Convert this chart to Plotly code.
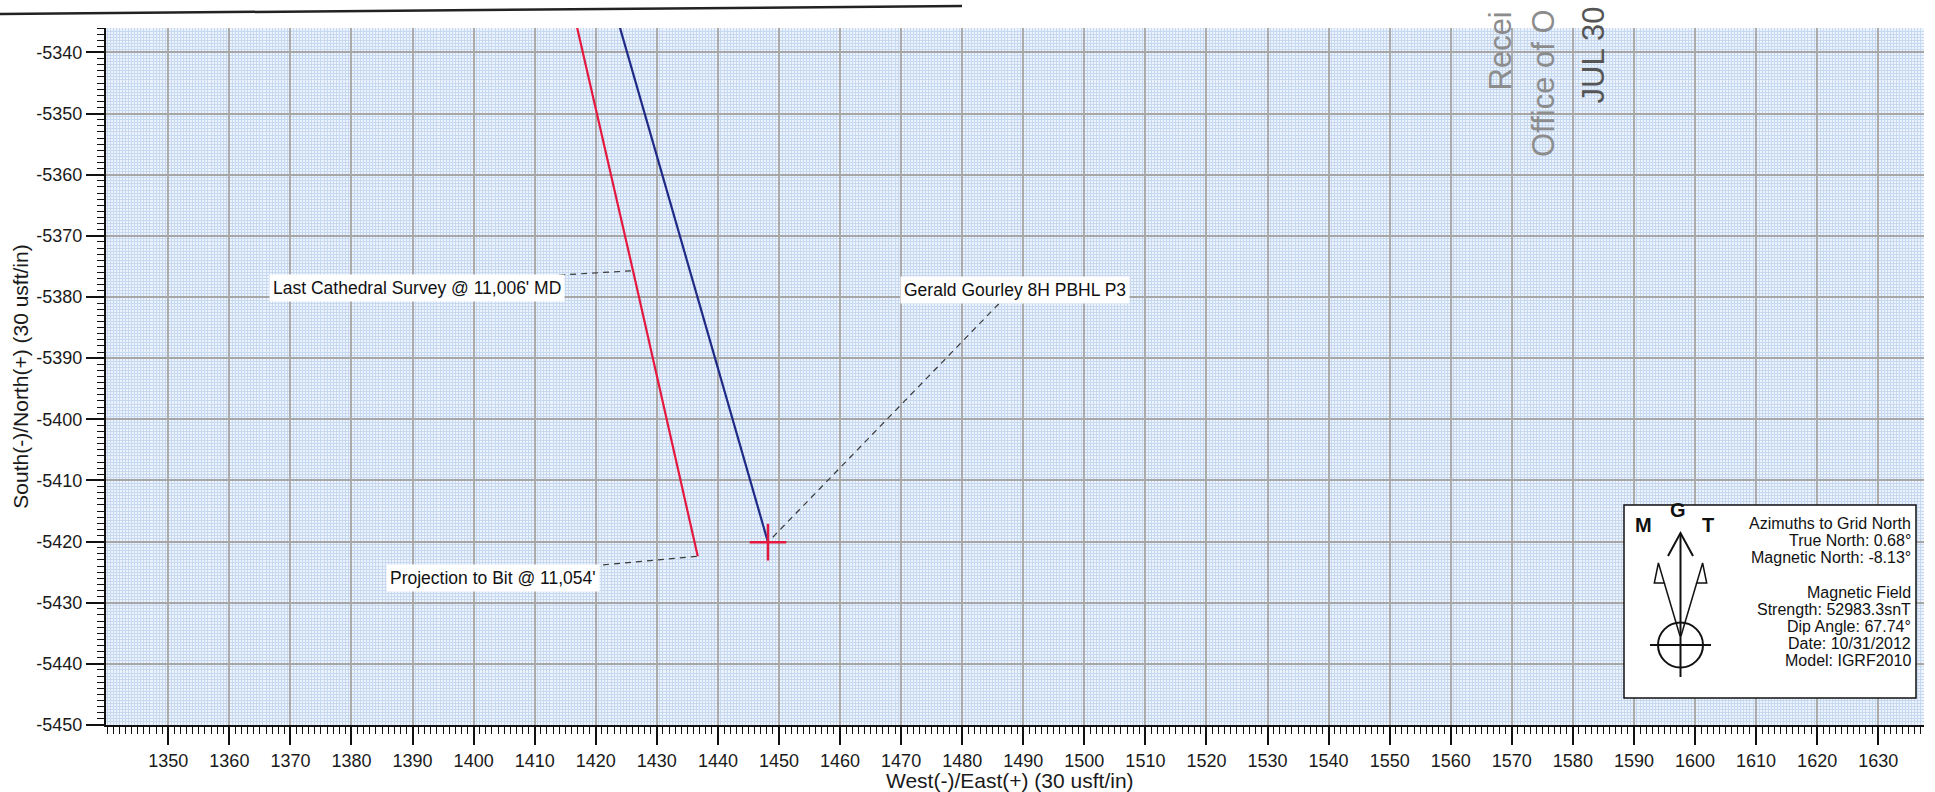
import plotly.graph_objects as go

# ---------------- data ----------------
survey_ew = [1416.5, 1426.1, 1436.7]          # Cathedral survey + projection (red)
survey_ns = [-5334.0, -5375.7, -5422.4]
plan_ew = [1423.4, 1448.2]                    # well plan (blue)
plan_ns = [-5334.0, -5420.1]
target_ew = 1448.2                            # PBHL target cross
target_ns = -5420.1
target_half = 3.0

x_ticks = list(range(1350, 1640, 10))
y_ticks = list(range(-5450, -5330, 10))

label_texts = ["Last Cathedral Survey @ 11,006' MD",
               "Projection to Bit @ 11,054'",
               "Gerald Gourley 8H PBHL P3"]
label_ew = [1390.8, 1403.1, 1488.6]
label_ns = [-5378.5, -5426.0, -5378.9]
leader_from_ew = [1414.0, 1421.2, 1486.0]
leader_from_ns = [-5376.4, -5423.8, -5381.1]
leader_to_ew = [1426.1, 1436.7, 1448.2]
leader_to_ns = [-5375.7, -5422.4, -5420.1]

info_lines = ["Azimuths to Grid North", "True North: 0.68°", "Magnetic North: -8.13°",
              "Magnetic Field", "Strength: 52983.3snT", "Dip Angle: 67.74°",
              "Date: 10/31/2012", "Model: IGRF2010"]
stamp_lines = ["Recei", "Office of O", "JUL 30"]

X_RANGE = [1339.8, 1637.5]
Y_RANGE = [-5450, -5336]

# ---------------- layout geometry ----------------
W, H = 1935, 792
PL, PT, PW, PH = 106, 28, 1818, 697
FONT = "Liberation Sans, Arial, sans-serif"


def pxx(px):
    return (px - PL) / PW


def pxy(py):
    return (PT + PH - py) / PH


fig = go.Figure()

# survey (red)
fig.add_trace(go.Scatter(x=survey_ew, y=survey_ns, mode="lines",
                         line=dict(color="#e3193f", width=2.2), hoverinfo="skip"))
# plan (blue)
fig.add_trace(go.Scatter(x=plan_ew, y=plan_ns, mode="lines",
                         line=dict(color="#1f2a86", width=2.2), hoverinfo="skip"))

# leader lines
lx, ly = [], []
for a, b, c, d in zip(leader_from_ew, leader_from_ns, leader_to_ew, leader_to_ns):
    lx += [a, c, None]
    ly += [b, d, None]
fig.add_trace(go.Scatter(x=lx, y=ly, mode="lines",
                         line=dict(color="#3a3a3a", width=1.2, dash="6px,5px"),
                         hoverinfo="skip"))

# target cross
cx = [target_ew - target_half, target_ew + target_half, None, target_ew, target_ew]
cy = [target_ns, target_ns, None, target_ns - target_half, target_ns + target_half]
fig.add_trace(go.Scatter(x=cx, y=cy, mode="lines",
                         line=dict(color="#e3193f", width=2.5), hoverinfo="skip"))

# dummy trace for the overlay axes (1-unit minor ticks)
fig.add_trace(go.Scatter(x=[X_RANGE[0]], y=[Y_RANGE[0]], xaxis="x2", yaxis="y2",
                         mode="markers", marker=dict(opacity=0), hoverinfo="skip"))

# labels
for t, xv, yv in zip(label_texts, label_ew, label_ns):
    fig.add_annotation(x=xv, y=yv, text=t, showarrow=False, bgcolor="white",
                       borderpad=3, font=dict(family=FONT, size=17.5, color="#111"))

# ---------------- magnetic info box ----------------
shapes = []
shapes.append(dict(type="rect", xref="paper", yref="paper",
                   x0=pxx(1624), x1=pxx(1916), y0=pxy(698), y1=pxy(505),
                   fillcolor="white", line=dict(color="#111", width=1.5)))


def path(points, close=False):
    s = "M " + " L ".join(f"{pxx(a):.5f},{pxy(b):.5f}" for a, b in points)
    return s + (" Z" if close else "")


lw = dict(color="#111", width=2)
shapes.append(dict(type="path", xref="paper", yref="paper",
                   path=path([(1680.5, 533), (1680.5, 677)]), line=lw))
shapes.append(dict(type="path", xref="paper", yref="paper",
                   path=path([(1668, 556), (1680.5, 533), (1693, 556)]), line=lw))
shapes.append(dict(type="circle", xref="paper", yref="paper",
                   x0=pxx(1658), x1=pxx(1703), y0=pxy(667.5), y1=pxy(622.5), line=lw))
shapes.append(dict(type="path", xref="paper", yref="paper",
                   path=path([(1650, 645), (1711, 645)]), line=lw))
thin = dict(color="#111", width=1.5)
shapes.append(dict(type="path", xref="paper", yref="paper",
                   path=path([(1680, 636), (1664.3, 583)]), line=thin))
shapes.append(dict(type="path", xref="paper", yref="paper",
                   path=path([(1658.4, 563), (1654.3, 583), (1664.3, 583)], close=True), line=thin))
shapes.append(dict(type="path", xref="paper", yref="paper",
                   path=path([(1681, 636), (1696.7, 583)]), line=thin))
shapes.append(dict(type="path", xref="paper", yref="paper",
                   path=path([(1702.6, 563), (1706.7, 583), (1696.7, 583)], close=True), line=thin))

for ch, px_, py_ in [("M", 1643, 525), ("G", 1678, 510), ("T", 1708, 525)]:
    fig.add_annotation(xref="paper", yref="paper", x=pxx(px_), y=pxy(py_),
                       text=f"<b>{ch}</b>", showarrow=False, xanchor="center", yanchor="middle",
                       font=dict(family=FONT, size=20, color="#111"))

info_y = [523, 540, 557, 592, 609, 626, 643, 660]
for t, yy in zip(info_lines, info_y):
    fig.add_annotation(xref="paper", yref="paper", x=pxx(1913), y=pxy(yy), text=t,
                       showarrow=False, xanchor="right", yanchor="middle",
                       font=dict(family=FONT, size=16, color="#111"))

# ---------------- scan artefacts: page line and received stamp ----------------
shapes.append(dict(type="line", xref="paper", yref="paper",
                   x0=pxx(0), y0=pxy(14), x1=pxx(962), y1=pxy(6),
                   line=dict(color="#222", width=2.5)))

for t, px_, pyb, col in zip(stamp_lines, [1500, 1543, 1593], [93, 159, 106],
                            ["#8c8c8c", "#8c8c8c", "#555"]):
    fig.add_annotation(xref="paper", yref="paper", x=pxx(px_), y=pxy(pyb), text=t,
                       textangle=-90, showarrow=False, xanchor="center", yanchor="bottom",
                       font=dict(family=FONT, size=31, color=col))

# x-axis title placed explicitly
fig.add_annotation(xref="paper", yref="paper", x=pxx(1010), y=pxy(780),
                   text="West(-)/East(+) (30 usft/in)", showarrow=False,
                   xanchor="center", yanchor="middle",
                   font=dict(family=FONT, size=21, color="#1a1a1a"))

# ---------------- axes ----------------
tickfont = dict(family=FONT, size=18, color="#1a1a1a")
titlefont = dict(family=FONT, size=21, color="#1a1a1a")

fig.update_layout(
    width=W, height=H,
    margin=dict(l=PL, r=W - PL - PW, t=PT, b=H - PT - PH, autoexpand=False),
    paper_bgcolor="white", plot_bgcolor="#edf3fc",
    showlegend=False,
    shapes=shapes,
    xaxis=dict(range=X_RANGE, tickmode="array", tickvals=x_ticks,
               ticktext=[str(v) for v in x_ticks],
               ticks="outside", ticklen=18, tickwidth=1.5, tickcolor="#111",
               showline=True, linecolor="#111", linewidth=2,
               showgrid=True, gridcolor="#ababab", gridwidth=1.5, zeroline=False,
               minor=dict(tickmode="linear", tick0=0, dtick=0.5, ticks="",
                          showgrid=True, gridcolor="#c6d9f1", gridwidth=1),
               tickfont=tickfont),
    yaxis=dict(range=Y_RANGE, tickmode="array", tickvals=y_ticks,
               ticktext=[str(v) for v in y_ticks],
               ticks="outside", ticklen=18, tickwidth=1.5, tickcolor="#111",
               showline=True, linecolor="#111", linewidth=2,
               showgrid=True, gridcolor="#a6a6a6", gridwidth=2.2, zeroline=False,
               minor=dict(tickmode="linear", tick0=0, dtick=0.5, ticks="",
                          showgrid=True, gridcolor="#c6d9f1", gridwidth=1),
               tickfont=tickfont,
               title=dict(text="South(-)/North(+) (30 usft/in)", font=titlefont, standoff=2)),
    xaxis2=dict(range=X_RANGE, overlaying="x", anchor="y2", side="bottom",
                tickmode="linear", tick0=0, dtick=1, ticks="outside", ticklen=8,
                tickwidth=1, tickcolor="#111", showticklabels=False,
                showgrid=False, zeroline=False, showline=False),
    yaxis2=dict(range=Y_RANGE, overlaying="y", anchor="x2", side="left",
                tickmode="linear", tick0=0, dtick=1, ticks="outside", ticklen=8,
                tickwidth=1, tickcolor="#111", showticklabels=False,
                showgrid=False, zeroline=False, showline=False),
)

fig.write_html("out.html", config={"displayModeBar": False},
               post_script="document.body.style.margin='0';document.body.style.overflow='hidden';")
